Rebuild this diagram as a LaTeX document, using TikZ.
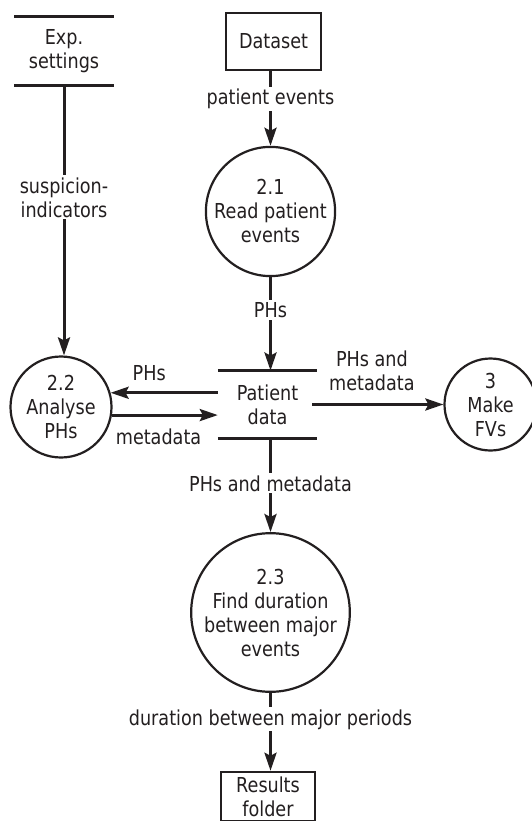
\documentclass[tikz,border=0pt]{standalone}
\usepackage{fontspec}
\setmainfont{DejaVu Sans}[FakeStretch=0.855]
\usetikzlibrary{arrows.meta}
\definecolor{ink}{RGB}{35,31,32}
\begin{document}
\begin{tikzpicture}[x=1pt,y=-1pt,
  every node/.style={font=\fontsize{20.6}{24}\selectfont, text=ink, align=center},
  process/.style={circle, draw=ink, line width=2.2pt, inner sep=0pt},
  entity/.style={rectangle, draw=ink, line width=2.5pt, inner sep=0pt},
  store/.style={inner sep=0pt},
  storeline/.style={draw=ink, line width=3pt},
  flow/.style={draw=ink, line width=3pt, -{Stealth[length=18pt,width=12pt,inset=3pt]}},
  flowlabel/.style={fill=white, inner sep=2pt}
]
\useasboundingbox[fill=white] (0,0) rectangle (531,821);

% external entities, data stores and processes
\node[store, minimum width=99pt, minimum height=68pt] (exp) at (64,51) {Exp.\\settings};
\draw[storeline] (exp.north west) -- (exp.north east) (exp.south west) -- (exp.south east);

\node[entity, minimum width=95pt, minimum height=57pt] (dataset) at (273.5,41.5) {Dataset};
\node[process, minimum size=123pt] (p21) at (270.5,211.5) {2.1\\Read patient\\events};

\node[store, minimum width=99pt, minimum height=67.5pt] (pdata) at (267.5,404.5) {Patient\\data};
\draw[storeline] (pdata.north west) -- (pdata.north east) (pdata.south west) -- (pdata.south east);

\node[process, minimum size=101pt] (p22) at (61,407) {2.2\\Analyse\\PHs};
\node[process, minimum size=92pt] (p3) at (490.5,404.5) {3\\Make\\FVs};
\node[process, minimum size=155pt] (p23) at (270.5,612.5) {2.3\\Find duration\\between major\\events};
% the results box runs past the lower edge of the page
\node[entity, minimum width=94pt, minimum height=49pt] (results) at (268,796.5) {Results\\folder};

% data flows
\draw[flow] (p21.north |- dataset.south) -- node[flowlabel, pos=0.37] {patient events} (p21.north);
\draw[flow] (p21.south) -- node[flowlabel, pos=0.35] {PHs} (p21.south |- pdata.north);
\draw[flow] (exp.south) -- node[flowlabel, pos=0.415] {suspicion-\\indicators} (exp.south |- p22.north);
\draw[flow] (pdata.west |- p22.16) -- node[pos=0.64, yshift=20pt] {PHs} (p22.16);
\draw[flow] (p22.-9) -- node[pos=0.44, yshift=-22pt] {metadata} (pdata.west |- p22.-9);
\draw[flow] ([xshift=-5pt]pdata.east) -- node[pos=0.455, yshift=34pt] {PHs and\\metadata} (p3.west);
\draw[flow] (p23.north |- pdata.south) -- node[flowlabel, pos=0.48] {PHs and metadata} (p23.north);
\draw[flow] (p23.south) -- node[flowlabel, pos=0.34] {duration between major periods} (p23.south |- results.north);
\end{tikzpicture}
\end{document}
